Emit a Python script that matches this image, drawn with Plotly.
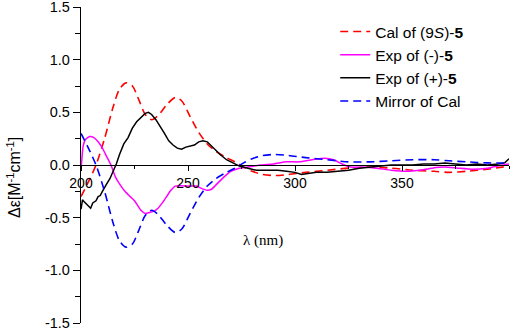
import plotly.graph_objects as go

# Calculated ECD of (9S)-5
cal_wl = [200, 203, 207, 211, 215, 218, 221, 224, 227, 230, 233, 236, 240, 244, 247, 251, 255, 259, 263, 268,
          272, 276, 280, 285, 291, 297, 305, 315, 325, 335, 345, 355, 365, 372, 380, 390, 400]
cal_val = [-0.30, -0.18, 0.0, 0.25, 0.55, 0.72, 0.78, 0.75, 0.62, 0.48, 0.43, 0.47, 0.57, 0.64, 0.61, 0.46, 0.31,
           0.20, 0.13, 0.07, 0.03, -0.02, -0.06, -0.09, -0.10, -0.09, -0.07, -0.05, -0.03, -0.02, -0.03, -0.05,
           -0.06, -0.07, -0.06, -0.04, -0.01]

# Mirror of calculated curve
mir_wl = cal_wl
mir_val = [0.30, 0.18, 0.0, -0.25, -0.55, -0.72, -0.78, -0.75, -0.62, -0.48, -0.43, -0.47, -0.57, -0.64, -0.61,
           -0.46, -0.31, -0.20, -0.13, -0.07, -0.03, 0.02, 0.06, 0.09, 0.10, 0.09, 0.07, 0.05, 0.03, 0.03, 0.04,
           0.05, 0.05, 0.04, 0.03, 0.02, 0.02]

# Experimental ECD of (+)-5
pos_wl = [200, 200.7, 201.5, 203, 204.5, 205.5, 207, 208, 209, 210, 211, 212, 213.5, 215, 216.5, 218, 220, 222,
          224, 226, 228, 230, 231.5, 233, 235, 237, 239, 241, 243, 245, 247, 249, 251, 253, 255, 257, 259, 261,
          263, 265, 268, 271, 274, 278, 282, 287, 292, 296, 300, 303, 306, 310, 315, 320, 325, 330, 335, 340,
          345, 350, 355, 360, 365, 370, 375, 380, 385, 390, 395, 398, 400]
pos_val = [-0.42, -0.33, -0.35, -0.38, -0.41, -0.36, -0.34, -0.30, -0.29, -0.25, -0.22, -0.18, -0.13, -0.06, 0.01,
           0.10, 0.20, 0.26, 0.35, 0.41, 0.45, 0.49, 0.50, 0.48, 0.43, 0.37, 0.30, 0.23, 0.19, 0.16, 0.15, 0.17,
           0.18, 0.19, 0.22, 0.23, 0.22, 0.18, 0.14, 0.10, 0.05, 0.02, -0.01, -0.03, -0.05, -0.05, -0.05, -0.06,
           -0.07, -0.09, -0.08, -0.07, -0.07, -0.06, -0.05, -0.03, -0.02, -0.01, 0.0, 0.0, 0.0, 0.01, 0.01, 0.02,
           0.01, 0.0, 0.01, 0.0, 0.01, 0.02, 0.06]

# Experimental ECD of (-)-5
neg_wl = [200, 201, 202, 204, 206, 208, 210, 212, 214, 216, 218, 220.5, 223, 225, 228, 230, 232, 234, 236, 238,
          240, 242, 244, 250, 254, 256, 259, 261, 264, 267, 270, 274, 278, 284, 290, 296, 302, 308, 314, 318,
          322, 326, 332, 338, 345, 352, 358, 364, 370, 376, 383, 390, 397, 400]
neg_val = [-0.05, 0.18, 0.24, 0.27, 0.26, 0.22, 0.16, 0.08, 0.0, -0.11, -0.18, -0.25, -0.30, -0.34, -0.43, -0.46,
           -0.45, -0.44, -0.41, -0.36, -0.30, -0.24, -0.20, -0.20, -0.20, -0.22, -0.24, -0.23, -0.17, -0.11,
           -0.06, -0.03, -0.02, 0.0, 0.01, 0.03, 0.03, 0.05, 0.065, 0.05, 0.01, -0.02, -0.02, -0.03, -0.05,
           -0.06, -0.05, -0.03, -0.02, -0.03, -0.04, -0.03, 0.0, 0.01]

x_ticks = [200, 250, 300, 350]
y_ticks = [-1.5, -1.0, -0.5, 0.0, 0.5, 1.0, 1.5]

fig = go.Figure()
fig.add_trace(go.Scatter(x=cal_wl, y=cal_val, mode="lines", name="Cal of (9<i>S</i>)-<b>5</b>",
                         line=dict(color="#FF0000", width=1.6, dash="8px,5px", shape="spline", smoothing=0.8)))
fig.add_trace(go.Scatter(x=neg_wl, y=neg_val, mode="lines", name="Exp of (-)-<b>5</b>",
                         line=dict(color="#FF00FF", width=1.5, shape="spline", smoothing=0.5)))
fig.add_trace(go.Scatter(x=pos_wl, y=pos_val, mode="lines", name="Exp of (+)-<b>5</b>",
                         line=dict(color="#000000", width=1.5)))
fig.add_trace(go.Scatter(x=mir_wl, y=mir_val, mode="lines", name="Mirror of Cal",
                         line=dict(color="#0000FF", width=1.6, dash="8px,5px", shape="spline", smoothing=0.8)))

fig.update_layout(
    width=512, height=329,
    margin=dict(l=81, r=3, t=7, b=6, autoexpand=False),
    paper_bgcolor="white", plot_bgcolor="white",
    font=dict(family="Arial, Liberation Sans, sans-serif", size=14, color="black"),
    showlegend=True,
    legend=dict(x=0.594, y=0.975, xanchor="left", yanchor="top", bgcolor="rgba(0,0,0,0)",
                font=dict(size=15.5), tracegroupgap=0),
    xaxis=dict(range=[200, 400], anchor="free", position=0.5, showline=True, linecolor="black", linewidth=1,
               showgrid=False, zeroline=False, tickvals=x_ticks, ticktext=[str(v) for v in x_ticks],
               ticks="outside", ticklen=5, tickcolor="black", ticklabeloverflow="allow",
               minor=dict(dtick=25, tick0=200, ticks="outside", ticklen=3, tickcolor="black"),
               tickfont=dict(size=14)),
    yaxis=dict(range=[-1.5, 1.5], showline=True, linecolor="black", linewidth=1.3, showgrid=False,
               zeroline=False, tickvals=y_ticks, ticktext=["%.1f" % v for v in y_ticks],
               ticks="outside", ticklen=7, tickcolor="black", ticklabeloverflow="allow",
               minor=dict(dtick=0.25, tick0=0, ticks="outside", ticklen=5, tickcolor="black"),
               tickfont=dict(size=14.5)),
    annotations=[
        dict(text="Δε[M<sup>-1</sup>cm<sup>-1</sup>]", xref="paper", yref="paper", x=-0.158, y=0.46,
             textangle=-90, showarrow=False, xanchor="center", yanchor="middle", font=dict(size=16)),
        dict(text="λ (nm)", xref="x", yref="y", x=285, y=-0.72, showarrow=False,
             font=dict(family="Liberation Serif, Times New Roman, serif", size=15)),
    ],
)

fig.write_html("out.html", config={"displayModeBar": False},
               post_script="document.body.style.margin='0';")
